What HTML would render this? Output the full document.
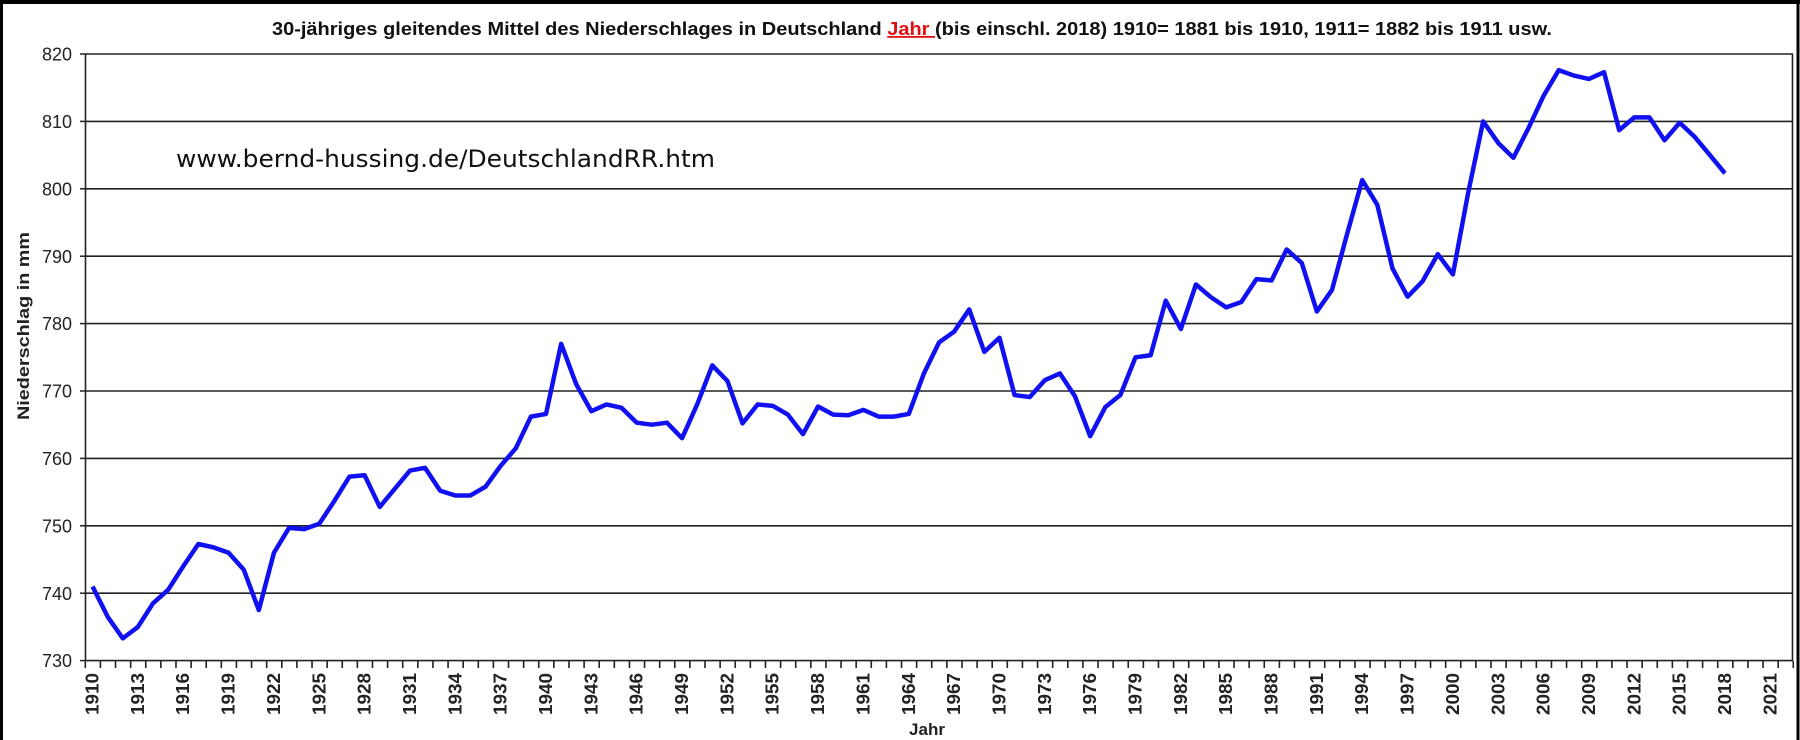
<!DOCTYPE html>
<html><head><meta charset="utf-8"><style>
html,body{margin:0;padding:0;background:#fff;}
svg{display:block;font-family:"Liberation Sans",Arial,sans-serif;}
</style></head><body>
<svg width="1800" height="740" viewBox="0 0 1800 740" xmlns="http://www.w3.org/2000/svg">
<rect x="0" y="0" width="1800" height="740" fill="#fff"/>
<line x1="0" y1="2" x2="1800" y2="2" stroke="#000" stroke-width="4"/>
<line x1="1.5" y1="0" x2="1.5" y2="740" stroke="#000" stroke-width="3"/>
<line x1="1798" y1="0" x2="1798" y2="740" stroke="#000" stroke-width="3"/>
<text x="272" y="35" font-size="18" font-weight="bold" fill="#111" textLength="1280" lengthAdjust="spacingAndGlyphs">30-jähriges gleitendes Mittel des Niederschlages in Deutschland <tspan fill="#e01010" text-decoration="underline">Jahr </tspan>(bis einschl. 2018) 1910= 1881 bis 1910, 1911= 1882 bis 1911 usw.</text>
<g stroke="#222" stroke-width="1.6">
<line x1="85" y1="54" x2="1793" y2="54"/>
<line x1="85" y1="121.4" x2="1793" y2="121.4"/>
<line x1="85" y1="188.8" x2="1793" y2="188.8"/>
<line x1="85" y1="256.2" x2="1793" y2="256.2"/>
<line x1="85" y1="323.6" x2="1793" y2="323.6"/>
<line x1="85" y1="391" x2="1793" y2="391"/>
<line x1="85" y1="458.4" x2="1793" y2="458.4"/>
<line x1="85" y1="525.8" x2="1793" y2="525.8"/>
<line x1="85" y1="593.2" x2="1793" y2="593.2"/>
<line x1="85" y1="660.6" x2="1793" y2="660.6"/>
<line x1="85.5" y1="54" x2="85.5" y2="661"/>
<line x1="1792.5" y1="54" x2="1792.5" y2="661"/>
</g>
<g stroke="#222" stroke-width="1.5">
<line x1="80" y1="54" x2="85" y2="54"/><line x1="80" y1="121.4" x2="85" y2="121.4"/>
<line x1="80" y1="188.8" x2="85" y2="188.8"/><line x1="80" y1="256.2" x2="85" y2="256.2"/>
<line x1="80" y1="323.6" x2="85" y2="323.6"/><line x1="80" y1="391" x2="85" y2="391"/>
<line x1="80" y1="458.4" x2="85" y2="458.4"/><line x1="80" y1="525.8" x2="85" y2="525.8"/>
<line x1="80" y1="593.2" x2="85" y2="593.2"/><line x1="80" y1="660.6" x2="85" y2="660.6"/>
</g>
<g font-size="18" fill="#222" text-anchor="end">
<text x="72" y="60.5">820</text><text x="72" y="128">810</text><text x="72" y="195.5">800</text>
<text x="72" y="263">790</text><text x="72" y="330">780</text><text x="72" y="397.5">770</text>
<text x="72" y="465">760</text><text x="72" y="532.5">750</text><text x="72" y="600">740</text>
<text x="72" y="667">730</text>
</g>
<line x1="84.5" y1="664.5" x2="1794" y2="664.5" stroke="#222" stroke-width="7" stroke-dasharray="1.6 13.515"/>
<text transform="translate(29,326) rotate(-90)" text-anchor="middle" font-size="17" font-weight="bold" fill="#222" textLength="188" lengthAdjust="spacingAndGlyphs">Niederschlag in mm</text>
<text x="927" y="735" text-anchor="middle" font-size="17" font-weight="bold" fill="#222">Jahr</text>
<text x="176" y="167" font-family="DejaVu Sans, sans-serif" font-size="24" fill="#111" textLength="539" lengthAdjust="spacingAndGlyphs">www.bernd-hussing.de/DeutschlandRR.htm</text>
<g font-size="18" font-weight="bold" fill="#222" text-anchor="end">
<text transform="translate(92.6,673) rotate(-90)" dy="6" textLength="42" lengthAdjust="spacingAndGlyphs">1910</text>
<text transform="translate(137.9,673) rotate(-90)" dy="6" textLength="42" lengthAdjust="spacingAndGlyphs">1913</text>
<text transform="translate(183.2,673) rotate(-90)" dy="6" textLength="42" lengthAdjust="spacingAndGlyphs">1916</text>
<text transform="translate(228.6,673) rotate(-90)" dy="6" textLength="42" lengthAdjust="spacingAndGlyphs">1919</text>
<text transform="translate(273.9,673) rotate(-90)" dy="6" textLength="42" lengthAdjust="spacingAndGlyphs">1922</text>
<text transform="translate(319.3,673) rotate(-90)" dy="6" textLength="42" lengthAdjust="spacingAndGlyphs">1925</text>
<text transform="translate(364.6,673) rotate(-90)" dy="6" textLength="42" lengthAdjust="spacingAndGlyphs">1928</text>
<text transform="translate(409.9,673) rotate(-90)" dy="6" textLength="42" lengthAdjust="spacingAndGlyphs">1931</text>
<text transform="translate(455.3,673) rotate(-90)" dy="6" textLength="42" lengthAdjust="spacingAndGlyphs">1934</text>
<text transform="translate(500.7,673) rotate(-90)" dy="6" textLength="42" lengthAdjust="spacingAndGlyphs">1937</text>
<text transform="translate(546.0,673) rotate(-90)" dy="6" textLength="42" lengthAdjust="spacingAndGlyphs">1940</text>
<text transform="translate(591.4,673) rotate(-90)" dy="6" textLength="42" lengthAdjust="spacingAndGlyphs">1943</text>
<text transform="translate(636.7,673) rotate(-90)" dy="6" textLength="42" lengthAdjust="spacingAndGlyphs">1946</text>
<text transform="translate(682.0,673) rotate(-90)" dy="6" textLength="42" lengthAdjust="spacingAndGlyphs">1949</text>
<text transform="translate(727.4,673) rotate(-90)" dy="6" textLength="42" lengthAdjust="spacingAndGlyphs">1952</text>
<text transform="translate(772.7,673) rotate(-90)" dy="6" textLength="42" lengthAdjust="spacingAndGlyphs">1955</text>
<text transform="translate(818.1,673) rotate(-90)" dy="6" textLength="42" lengthAdjust="spacingAndGlyphs">1958</text>
<text transform="translate(863.4,673) rotate(-90)" dy="6" textLength="42" lengthAdjust="spacingAndGlyphs">1961</text>
<text transform="translate(908.8,673) rotate(-90)" dy="6" textLength="42" lengthAdjust="spacingAndGlyphs">1964</text>
<text transform="translate(954.1,673) rotate(-90)" dy="6" textLength="42" lengthAdjust="spacingAndGlyphs">1967</text>
<text transform="translate(999.5,673) rotate(-90)" dy="6" textLength="42" lengthAdjust="spacingAndGlyphs">1970</text>
<text transform="translate(1044.8,673) rotate(-90)" dy="6" textLength="42" lengthAdjust="spacingAndGlyphs">1973</text>
<text transform="translate(1090.2,673) rotate(-90)" dy="6" textLength="42" lengthAdjust="spacingAndGlyphs">1976</text>
<text transform="translate(1135.5,673) rotate(-90)" dy="6" textLength="42" lengthAdjust="spacingAndGlyphs">1979</text>
<text transform="translate(1180.8,673) rotate(-90)" dy="6" textLength="42" lengthAdjust="spacingAndGlyphs">1982</text>
<text transform="translate(1226.2,673) rotate(-90)" dy="6" textLength="42" lengthAdjust="spacingAndGlyphs">1985</text>
<text transform="translate(1271.5,673) rotate(-90)" dy="6" textLength="42" lengthAdjust="spacingAndGlyphs">1988</text>
<text transform="translate(1316.9,673) rotate(-90)" dy="6" textLength="42" lengthAdjust="spacingAndGlyphs">1991</text>
<text transform="translate(1362.2,673) rotate(-90)" dy="6" textLength="42" lengthAdjust="spacingAndGlyphs">1994</text>
<text transform="translate(1407.6,673) rotate(-90)" dy="6" textLength="42" lengthAdjust="spacingAndGlyphs">1997</text>
<text transform="translate(1452.9,673) rotate(-90)" dy="6" textLength="42" lengthAdjust="spacingAndGlyphs">2000</text>
<text transform="translate(1498.3,673) rotate(-90)" dy="6" textLength="42" lengthAdjust="spacingAndGlyphs">2003</text>
<text transform="translate(1543.6,673) rotate(-90)" dy="6" textLength="42" lengthAdjust="spacingAndGlyphs">2006</text>
<text transform="translate(1589.0,673) rotate(-90)" dy="6" textLength="42" lengthAdjust="spacingAndGlyphs">2009</text>
<text transform="translate(1634.3,673) rotate(-90)" dy="6" textLength="42" lengthAdjust="spacingAndGlyphs">2012</text>
<text transform="translate(1679.7,673) rotate(-90)" dy="6" textLength="42" lengthAdjust="spacingAndGlyphs">2015</text>
<text transform="translate(1725.0,673) rotate(-90)" dy="6" textLength="42" lengthAdjust="spacingAndGlyphs">2018</text>
<text transform="translate(1770.3,673) rotate(-90)" dy="6" textLength="42" lengthAdjust="spacingAndGlyphs">2021</text>
</g>
<g transform="translate(92.56,5580.8) scale(15.115,-6.74)">
<polyline fill="none" stroke="#1010f0" stroke-width="4.5" stroke-linejoin="round" vector-effect="non-scaling-stroke" points="
0,741 1,736.5 2,733.3 3,735 4,738.5 5,740.5 6,744 7,747.3 8,746.8 9,746 10,743.5 11,737.5 12,746 13,749.7 14,749.5 15,750.3 16,753.7 17,757.3 18,757.5 19,752.8
20,755.5 21,758.2 22,758.6 23,755.2 24,754.5 25,754.5 26,755.8 27,758.9 28,761.5 29,766.2 30,766.6 31,777 32,771 33,767 34,768 35,767.5 36,765.3 37,765 38,765.3 39,763
40,768 41,773.8 42,771.5 43,765.2 44,768 45,767.8 46,766.5 47,763.6 48,767.7 49,766.5 50,766.4 51,767.2 52,766.2 53,766.2 54,766.6 55,772.6 56,777.2 57,778.8 58,782.1 59,775.8
60,777.9 61,769.4 62,769.1 63,771.6 64,772.6 65,769.2 66,763.3 67,767.6 68,769.4 69,775 70,775.3 71,783.4 72,779.2 73,785.8 74,783.9 75,782.4 76,783.2 77,786.6 78,786.4 79,791
80,789 81,781.8 82,785 83,793.3 84,801.3 85,797.6 86,788.2 87,784 88,786.3 89,790.3 90,787.3 91,799.3 92,810 93,806.8 94,804.6 95,809 96,813.8 97,817.6 98,816.8 99,816.3
100,817.3 101,808.7 102,810.6 103,810.6 104,807.2 105,809.8 106,807.7 107,805 108,802.3"/>
</g>
</svg>
</body></html>
